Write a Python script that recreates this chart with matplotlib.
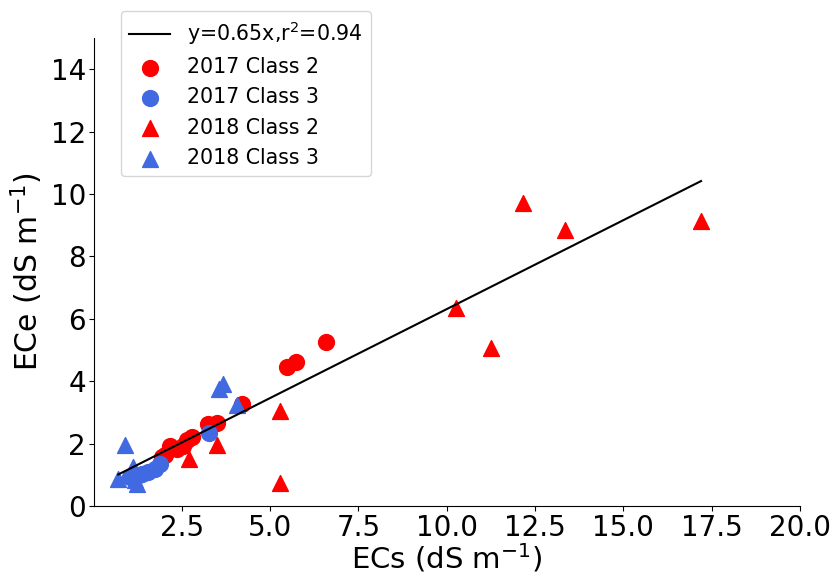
import numpy as np
import matplotlib.pyplot as plt

# ECs / ECe pairs per year and class
ecs_2017_c2 = [6.57, 5.47, 5.74, 4.2, 3.49, 3.25, 2.17, 2.36, 2.64, 2.78, 2.03, 1.93, 2.54]
ece_2017_c2 = [5.27, 4.45, 4.61, 3.26, 2.66, 2.64, 1.92, 1.84, 2.11, 2.2, 1.63, 1.58, 1.92]

ecs_2017_c3 = [3.28, 1.88, 1.74, 1.55, 1.36, 1.22, 1.03]
ece_2017_c3 = [2.35, 1.36, 1.2, 1.1, 1.04, 0.96, 0.94]

ecs_2018_c2 = [12.16, 13.36, 17.2, 10.27, 11.26, 5.28, 5.28, 3.49, 2.69]
ece_2018_c2 = [9.72, 8.84, 9.14, 6.36, 5.07, 3.04, 0.73, 1.95, 1.49]

ecs_2018_c3 = [0.89, 3.54, 3.68, 4.06, 0.70, 1.11, 1.22, 1.18]
ece_2018_c3 = [1.95, 3.76, 3.92, 3.23, 0.88, 1.26, 0.72, 0.83]

# fitted line
fit_slope = 0.570
fit_intercept = 0.61
fit_x = np.array([0.70, 17.2])

fig = plt.figure(figsize=(8.35, 5.78), dpi=100)
ax = fig.add_axes([0.112, 0.1246, 0.846, 0.8097])

ax.plot(fit_x, fit_slope * fit_x + fit_intercept, color='black', lw=1.5,
        label='y=0.65x,r$^2$=0.94')
ax.scatter(ecs_2017_c2, ece_2017_c2, s=130, color='red', marker='o', label='2017 Class 2')
ax.scatter(ecs_2017_c3, ece_2017_c3, s=130, color='royalblue', marker='o', label='2017 Class 3')
ax.scatter(ecs_2018_c2, ece_2018_c2, s=130, color='red', marker='^', label='2018 Class 2')
ax.scatter(ecs_2018_c3, ece_2018_c3, s=130, color='royalblue', marker='^', label='2018 Class 3')

ax.set_xlim(0, 20)
ax.set_ylim(0, 15)
ax.set_xticks([2.5, 5.0, 7.5, 10.0, 12.5, 15.0, 17.5, 20.0])
ax.set_yticks([0, 2, 4, 6, 8, 10, 12, 14])
ax.tick_params(labelsize=20, pad=2)
ax.spines['top'].set_visible(False)
ax.spines['right'].set_visible(False)

ax.set_xlabel('ECs (dS m$^{-1}$)', fontsize=21, labelpad=0)
ax.set_ylabel('ECe (dS m$^{-1}$)', fontsize=21.5)

fig.legend(loc='upper left', bbox_to_anchor=(121 / 835, 1 - 11 / 578),
           borderaxespad=0, fontsize=14.8)

plt.savefig('out.png', dpi=100)
